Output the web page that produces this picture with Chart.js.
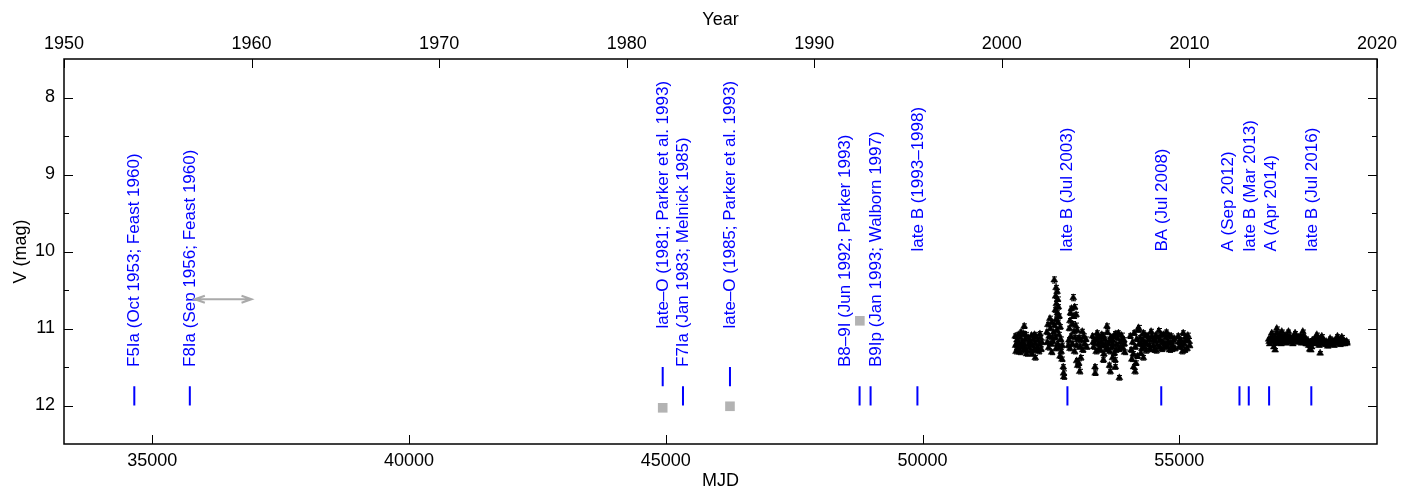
<!DOCTYPE html>
<html>
<head>
<meta charset="utf-8">
<title>V light curve</title>
<script src="https://cdn.jsdelivr.net/npm/chart.js@4"></script>
<style>
  html, body { margin: 0; padding: 0; background: #fff; }
</style>
</head>
<body>
<canvas id="lc" width="1412" height="492"></canvas>
<script>
// axes
const mjdRange = [33282, 58849];   // 1950.0 .. 2020.0
const yearRange = [1950, 2020];
const magRange = [7.5, 12.5];
const mjdTicks = [35000, 40000, 45000, 50000, 55000];
const yearTicks = [1950, 1960, 1970, 1980, 1990, 2000, 2010, 2020];
const magTicks = [8, 9, 10, 11, 12];

// epochs of spectral classification (blue bars)
const specMJD = [34651, 35732, 44940, 45335, 46250, 48774, 48988, 49900, 52821, 54648, 56171, 56352, 56748, 57570];
const specBarTop = [11.75, 11.75, 11.5, 11.75, 11.5, 11.75, 11.75, 11.75, 11.75, 11.75, 11.75, 11.75, 11.75, 11.75];

// annotations
const labelText = [
    'F5Ia (Oct 1953; Feast 1960)',
    'F8Ia (Sep 1956; Feast 1960)',
    'late\u2013O (1981; Parker et al. 1993)',
    'F7Ia (Jan 1983; Melnick 1985)',
    'late\u2013O (1985; Parker et al. 1993)',
    'B8\u20139I (Jun 1992; Parker 1993)',
    'B9Ip (Jan 1993; Walborn 1997)',
    'late B (1993\u20131998)',
    'late B (Jul 2003)',
    'BA (Jul 2008)',
    'A (Sep 2012)',
    'late B (Mar 2013)',
    'A (Apr 2014)',
    'late B (Jul 2016)'
];
const labelMJD = [34651, 35732, 44946, 45335, 46250, 48487, 49105, 49909, 52821, 54670, 55949, 56391, 56787, 57586];
const labelV = [11.5, 11.5, 11.0, 11.5, 11.0, 11.5, 11.5, 10.0, 10.0, 10.0, 10.0, 10.0, 10.0, 10.0];

// older photometry (grey squares)
const histMJD = [44940, 46250, 48779];
const histV = [12.03, 12.01, 10.9];

// grey double arrow
const arrowMJD = [35830, 36934];
const arrowV = 10.62;

// V photometry: [MJD, V, error]
const photV = [
    // 2000-2002
    [51805,11.10,.03],[51812,11.22,.03],[51820,11.30,.03],[51838,11.15,.03],[51850,11.26,.03],[51866,11.08,.03],
    [51880,11.19,.03],[51896,11.31,.03],[51910,11.12,.03],[51925,11.24,.03],[51940,11.18,.03],[51958,11.29,.03],
    [51972,11.07,.03],[51979,10.97,.03],[51985,11.21,.03],[52000,11.14,.03],[52012,11.27,.03],[52024,11.33,.03],
    [51830,11.20,.03],[51872,11.27,.03],[51918,11.05,.03],[51950,11.23,.03],[52005,11.08,.03],
    [52060,11.12,.03],[52075,11.25,.03],[52090,11.17,.03],[52108,11.30,.03],[52122,11.09,.03],[52140,11.22,.03],
    [52155,11.14,.03],[52170,11.28,.03],[52188,11.19,.03],[52195,11.38,.03],[52215,11.11,.03],[52230,11.24,.03],
    [52248,11.16,.03],[52262,11.30,.03],[52278,11.21,.03],[52295,11.12,.03],[52310,11.27,.03],[52322,11.18,.03],
    [52068,11.20,.03],[52132,11.33,.03],[52180,11.08,.03],[52240,11.28,.03],[52285,11.07,.03],
    // 2002 brightening
    [52420,11.05,.03],[52430,11.18,.03],[52440,10.95,.03],[52455,11.25,.03],[52465,11.10,.03],[52480,10.87,.03],
    [52490,11.00,.03],[52500,11.20,.03],[52515,11.31,.03],[52520,10.92,.03],[52530,11.12,.03],
    [52565,10.37,.04],[52600,10.47,.03],[52620,10.52,.03],[52590,10.58,.03],[52630,10.62,.03],[52605,10.68,.03],
    [52645,10.72,.03],[52585,10.76,.03],[52625,10.80,.03],[52660,10.84,.03],[52600,10.88,.03],[52640,10.92,.03],
    [52570,10.96,.03],[52680,10.98,.03],[52615,11.02,.03],[52550,11.05,.03],[52655,11.08,.03],[52590,11.12,.03],
    [52690,11.14,.03],[52540,11.17,.03],[52630,11.20,.03],[52670,11.24,.03],[52600,11.26,.03],[52700,11.30,.03],
    [52720,11.22,.03],[52676,11.36,.03],[52715,11.40,.03],[52740,11.50,.03],[52745,11.58,.03],[52750,11.63,.03],
    // 2003-2004
    [52935,10.60,.04],[52900,10.74,.03],[52960,10.72,.03],[52880,10.80,.03],[52940,10.84,.03],[52990,10.82,.03],
    [52870,10.90,.03],[52920,10.94,.03],[52980,10.96,.03],[52860,11.00,.03],[52950,11.04,.03],[53010,11.02,.03],
    [52890,11.10,.03],[52970,11.12,.03],[52850,11.15,.03],[53030,11.14,.03],[52920,11.20,.03],[53000,11.22,.03],
    [52870,11.26,.03],[52960,11.30,.03],[52840,11.22,.03],
    [53050,11.12,.03],[53070,11.24,.03],[53090,11.16,.03],[53110,11.04,.03],[53120,11.28,.03],[53140,11.10,.03],
    [53160,11.20,.03],[53180,11.14,.03],[53195,11.24,.03],
    [53000,11.42,.03],[53020,11.48,.03],[53060,11.56,.03],[53040,11.45,.03],[53080,11.38,.03],
    // 2005-2006
    [53310,11.10,.03],[53330,11.24,.03],[53358,11.16,.03],[53380,11.30,.03],[53400,11.06,.03],[53420,11.20,.03],
    [53445,11.12,.03],[53465,11.28,.03],[53490,11.08,.03],[53510,11.22,.03],[53530,11.33,.03],[53550,11.14,.03],
    [53575,11.26,.03],[53590,10.97,.03],[53600,11.05,.03],[53620,11.19,.03],[53645,11.30,.03],[53665,11.11,.03],
    [53690,11.24,.03],[53710,11.16,.03],[53735,11.32,.03],[53755,11.07,.03],[53780,11.21,.03],[53800,11.13,.03],
    [53825,11.27,.03],[53850,11.18,.03],[53875,11.09,.03],[53900,11.25,.03],[53920,11.15,.03],[53935,11.31,.03],
    [53320,11.18,.03],[53390,11.13,.03],[53435,11.26,.03],[53480,11.18,.03],[53520,11.10,.03],[53560,11.21,.03],
    [53610,11.27,.03],[53655,11.15,.03],[53700,11.20,.03],[53725,11.10,.03],[53770,11.28,.03],[53815,11.06,.03],
    [53860,11.25,.03],[53890,11.14,.03],[53930,11.20,.03],
    [53358,11.50,.03],[53362,11.58,.03],[53522,11.41,.03],[53640,11.48,.03],[53655,11.56,.03],[53700,11.38,.03],
    [53748,11.41,.03],[53755,11.50,.03],[53832,11.64,.03],
    // 2007-2008
    [54045,11.10,.03],[54060,11.28,.03],[54075,11.40,.03],[54090,11.18,.03],[54105,11.33,.03],[54110,11.50,.03],
    [54120,11.06,.03],[54138,11.56,.03],[54140,11.24,.03],[54155,11.45,.03],[54170,11.14,.03],[54185,11.36,.03],
    [54200,11.02,.03],[54205,10.99,.03],[54215,11.20,.03],[54250,11.32,.03],[54300,11.38,.03],
    [54240,11.12,.03],[54270,11.26,.03],[54300,11.06,.03],[54330,11.18,.03],[54360,11.29,.03],[54390,11.10,.03],
    [54420,11.22,.03],[54450,11.04,.03],[54480,11.16,.03],[54510,11.28,.03],[54540,11.09,.03],[54570,11.21,.03],
    [54600,11.03,.03],[54630,11.15,.03],[54660,11.27,.03],[54690,11.08,.03],[54720,11.20,.03],[54750,11.05,.03],
    [54780,11.17,.03],[54810,11.28,.03],[54840,11.10,.03],[54870,11.22,.03],[54900,11.13,.03],[54915,11.26,.03],
    [54255,11.20,.03],[54285,11.15,.03],[54315,11.24,.03],[54345,11.09,.03],[54375,11.20,.03],[54405,11.14,.03],
    [54435,11.27,.03],[54465,11.10,.03],[54495,11.22,.03],[54525,11.15,.03],[54555,11.29,.03],[54585,11.12,.03],
    [54615,11.24,.03],[54645,11.08,.03],[54675,11.18,.03],[54705,11.25,.03],[54735,11.12,.03],[54765,11.23,.03],
    [54795,11.09,.03],[54825,11.19,.03],[54855,11.27,.03],[54885,11.16,.03],
    // 2009
    [54980,11.10,.03],[55000,11.24,.03],[55030,11.15,.03],[55060,11.30,.03],[55075,11.06,.03],[55090,11.19,.03],
    [55120,11.11,.03],[55150,11.26,.03],[55180,11.16,.03],[55200,11.22,.03],
    [54990,11.18,.03],[55045,11.22,.03],[55105,11.28,.03],[55135,11.15,.03],[55165,11.09,.03],
    // 2014-2018
    [56800,11.06,.02],[56897,11.00,.02],[56995,11.04,.02],[57125,11.04,.02],[57254,11.06,.02],[57404,11.04,.02],
    [57677,11.08,.02],[57774,11.10,.02],[57936,11.13,.02],[58079,11.10,.02],[58164,11.11,.02],
    [56740,11.14,.02],[56760,11.20,.02],[56780,11.12,.02],[56820,11.17,.02],[56840,11.24,.02],[56860,11.10,.02],
    [56880,11.15,.02],[56920,11.19,.02],[56940,11.09,.02],[56960,11.14,.02],[56980,11.20,.02],[57020,11.12,.02],
    [57040,11.17,.02],[57060,11.09,.02],[57080,11.19,.02],[57100,11.13,.02],[57150,11.11,.02],[57170,11.18,.02],
    [57190,11.13,.02],[57210,11.20,.02],[57230,11.15,.02],[57280,11.12,.02],[57300,11.18,.02],[57330,11.14,.02],
    [57360,11.10,.02],[57380,11.19,.02],[57430,11.12,.02],[57450,11.17,.02],[57470,11.20,.02],[57500,11.16,.02],
    [57520,11.22,.02],[57540,11.27,.02],[57560,11.19,.02],[57590,11.15,.02],[57620,11.20,.02],[57640,11.13,.02],
    [57700,11.17,.02],[57720,11.22,.02],[57740,11.14,.02],[57760,11.19,.02],[57800,11.16,.02],[57830,11.21,.02],
    [57860,11.17,.02],[57890,11.23,.02],[57910,11.18,.02],[57960,11.20,.02],[57990,11.16,.02],[58010,11.22,.02],
    [58040,11.15,.02],[58060,11.19,.02],[58100,11.17,.02],[58130,11.21,.02],[58150,11.15,.02],[58190,11.18,.02],
    [58220,11.20,.02],[58250,11.17,.02],[58265,11.19,.02],
    [56750,11.17,.02],[56790,11.16,.02],[56810,11.12,.02],[56850,11.14,.02],[56870,11.19,.02],[56900,11.06,.02],
    [56910,11.13,.02],[56950,11.16,.02],[56970,11.11,.02],[57000,11.10,.02],[57010,11.17,.02],[57050,11.14,.02],
    [57090,11.16,.02],[57110,11.10,.02],[57130,11.15,.02],[57160,11.15,.02],[57200,11.16,.02],[57240,11.11,.02],
    [57260,11.15,.02],[57290,11.15,.02],[57320,11.11,.02],[57345,11.17,.02],[57370,11.13,.02],[57395,11.15,.02],
    [57415,11.10,.02],[57440,11.15,.02],[57460,11.13,.02],[57490,11.20,.02],[57510,11.17,.02],[57530,11.18,.02],
    [57550,11.22,.02],[57575,11.24,.02],[57600,11.18,.02],[57630,11.16,.02],[57660,11.17,.02],[57690,11.14,.02],
    [57710,11.19,.02],[57730,11.18,.02],[57750,11.16,.02],[57780,11.15,.02],[57815,11.19,.02],[57845,11.18,.02],
    [57875,11.20,.02],[57900,11.21,.02],[57925,11.16,.02],[57950,11.17,.02],[57975,11.19,.02],[58000,11.18,.02],
    [58025,11.19,.02],[58050,11.17,.02],[58075,11.16,.02],[58090,11.19,.02],[58115,11.16,.02],[58140,11.18,.02],
    [58170,11.17,.02],[58180,11.20,.02],[58205,11.16,.02],[58235,11.18,.02],[58260,11.17,.02],
    [56866,11.28,.02],[57742,11.32,.02],[57560,11.28,.02]
];

const FONT = '"Liberation Sans", Arial, Helvetica, sans-serif';
const tickFont = { family: FONT, size: 18 };
const titleFont = { family: FONT, size: 18 };

// blue bars as broken line segments
const specSegments = [];
specMJD.forEach((m, i) => {
    specSegments.push({ x: m, y: specBarTop[i] });
    specSegments.push({ x: m, y: specBarTop[i] + 0.25 });
    specSegments.push({ x: m, y: null });
});

const annotations = {
    id: 'annotations',
    beforeDatasetsDraw(chart) {
        const { ctx, scales: { x, y } } = chart;
        ctx.save();
        // spectral type labels
        ctx.fillStyle = '#0000ff';
        ctx.font = '17px ' + FONT;
        ctx.textAlign = 'left';
        ctx.textBaseline = 'middle';
        labelText.forEach((t, i) => {
            ctx.save();
            ctx.translate(x.getPixelForValue(labelMJD[i]), y.getPixelForValue(labelV[i]));
            ctx.rotate(-Math.PI / 2);
            ctx.fillText(t, 0, 0);
            ctx.restore();
        });
        // grey double arrow
        const ay = y.getPixelForValue(arrowV);
        const ax1 = x.getPixelForValue(arrowMJD[0]);
        const ax2 = x.getPixelForValue(arrowMJD[1]);
        ctx.strokeStyle = '#aaaaaa';
        ctx.lineWidth = 2;
        ctx.beginPath();
        ctx.moveTo(ax1, ay); ctx.lineTo(ax2, ay);
        ctx.moveTo(ax1 + 10, ay - 3.5); ctx.lineTo(ax1, ay); ctx.lineTo(ax1 + 10, ay + 3.5);
        ctx.moveTo(ax2 - 10, ay - 3.5); ctx.lineTo(ax2, ay); ctx.lineTo(ax2 - 10, ay + 3.5);
        ctx.stroke();
        // error bars of the photometry
        const a = chart.chartArea;
        ctx.beginPath();
        ctx.rect(a.left, a.top, a.right - a.left, a.bottom - a.top);
        ctx.clip();
        ctx.strokeStyle = '#000';
        ctx.lineWidth = 1;
        ctx.beginPath();
        photV.forEach(([m, v, e]) => {
            const px = Math.round(x.getPixelForValue(m)) + 0.5;
            const y1 = y.getPixelForValue(v - e);
            const y2 = y.getPixelForValue(v + e);
            ctx.moveTo(px, y1); ctx.lineTo(px, y2);
            ctx.moveTo(px - 2.5, y1); ctx.lineTo(px + 2.5, y1);
            ctx.moveTo(px - 2.5, y2); ctx.lineTo(px + 2.5, y2);
        });
        ctx.stroke();
        ctx.restore();
    }
};

const frameTicks = {
    id: 'frameTicks',
    afterDraw(chart) {
        const { ctx, chartArea: a, scales } = chart;
        ctx.save();
        ctx.strokeStyle = '#000';
        ctx.lineWidth = 1.5;
        ctx.strokeRect(a.left, a.top, a.right - a.left, a.bottom - a.top);
        ctx.lineWidth = 1;
        ctx.beginPath();
        mjdTicks.forEach(v => {
            const px = Math.round(scales.x.getPixelForValue(v)) + 0.5;
            ctx.moveTo(px, a.bottom); ctx.lineTo(px, a.bottom - 9);
        });
        yearTicks.forEach(v => {
            const px = Math.round(scales.x2.getPixelForValue(v)) + 0.5;
            ctx.moveTo(px, a.top); ctx.lineTo(px, a.top + 9);
        });
        magTicks.forEach((v, i) => {
            let py = Math.round(scales.y.getPixelForValue(v)) + 0.5;
            ctx.moveTo(a.left, py); ctx.lineTo(a.left + 9, py);
            ctx.moveTo(a.right, py); ctx.lineTo(a.right - 9, py);
            if (i < magTicks.length - 1) {
                py = Math.round(scales.y.getPixelForValue(v + 0.5)) + 0.5;
                ctx.moveTo(a.left, py); ctx.lineTo(a.left + 5, py);
                ctx.moveTo(a.right, py); ctx.lineTo(a.right - 5, py);
            }
        });
        ctx.stroke();
        ctx.restore();
    }
};

new Chart(document.getElementById('lc'), {
    type: 'scatter',
    data: {
        datasets: [
            {
                type: 'line',
                label: 'spectra',
                data: specSegments,
                borderColor: '#0000ff',
                borderWidth: 2,
                pointRadius: 0,
                spanGaps: false
            },
            {
                label: 'historical',
                data: histMJD.map((m, i) => ({ x: m, y: histV[i] })),
                pointStyle: 'rect',
                pointRadius: 6.8,
                backgroundColor: '#b3b3b3',
                borderWidth: 0
            },
            {
                label: 'V',
                data: photV.map(p => ({ x: p[0], y: p[1] })),
                pointStyle: 'triangle',
                pointRadius: 4,
                backgroundColor: '#000',
                borderColor: '#000',
                borderWidth: 0.5
            }
        ]
    },
    options: {
        responsive: false,
        animation: false,
        layout: { padding: { left: 0, right: 35, top: 0, bottom: 0 } },
        plugins: { legend: { display: false }, tooltip: { enabled: false } },
        scales: {
            x: {
                type: 'linear',
                position: 'bottom',
                min: mjdRange[0],
                max: mjdRange[1],
                afterBuildTicks: s => { s.ticks = mjdTicks.map(v => ({ value: v })); },
                afterFit: s => { s.height = 48; },
                grid: { display: false, drawTicks: false },
                border: { display: false },
                ticks: { padding: 6, font: tickFont, color: '#000', maxRotation: 0, callback: v => String(v) },
                title: { display: true, text: 'MJD', font: titleFont, color: '#000', padding: 0 }
            },
            x2: {
                type: 'linear',
                position: 'top',
                min: yearRange[0],
                max: yearRange[1],
                afterBuildTicks: s => { s.ticks = yearTicks.map(v => ({ value: v })); },
                afterFit: s => { s.height = 59; },
                grid: { display: false, drawTicks: false },
                border: { display: false },
                ticks: { padding: 4, font: tickFont, color: '#000', maxRotation: 0, callback: v => String(v) },
                title: { display: true, text: 'Year', font: titleFont, color: '#000', padding: { top: 9, bottom: 0 } }
            },
            y: {
                type: 'linear',
                reverse: true,
                min: magRange[0],
                max: magRange[1],
                afterBuildTicks: s => { s.ticks = magTicks.map(v => ({ value: v })); },
                afterFit: s => { s.width = 64; },
                grid: { display: false, drawTicks: false },
                border: { display: false },
                ticks: { padding: 9, font: tickFont, color: '#000', callback: v => String(v) },
                title: { display: true, text: 'V (mag)', font: titleFont, color: '#000', padding: { top: 10, bottom: 0 } }
            }
        }
    },
    plugins: [annotations, frameTicks]
});
</script>
</body>
</html>
